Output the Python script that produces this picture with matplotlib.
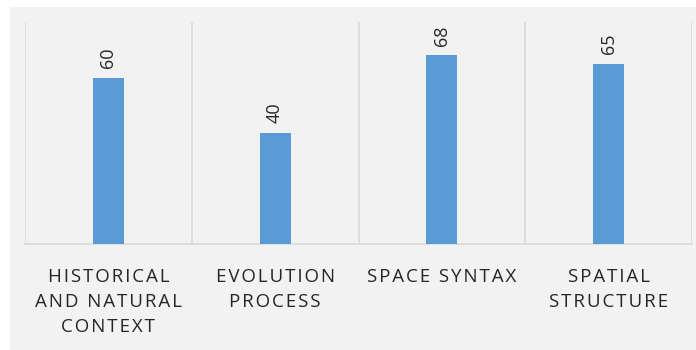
import matplotlib.pyplot as plt
from matplotlib.patches import Rectangle
import numpy as np

categories = ["HISTORICAL\nAND NATURAL\nCONTEXT", "EVOLUTION\nPROCESS",
              "SPACE SYNTAX", "SPATIAL\nSTRUCTURE"]
values = [60, 40, 68, 65]

bar_color = "#5b9bd5"
bg = "#f2f2f2"
grid_color = "#d9d9d9"
text_color = "#262626"

plt.rcParams['font.family'] = ['Open Sans', 'DejaVu Sans']


def spaced(s):
    # widen the tracking with hair spaces between letters
    return "\n".join("\u200a".join(line) for line in s.split("\n"))


fig = plt.figure(figsize=(6.96, 3.5), dpi=100)
fig.patch.set_facecolor("white")
fig.patches.append(Rectangle((10 / 696, 0.0), 1.0, 1 - 7 / 350,
                             transform=fig.transFigure, facecolor=bg,
                             edgecolor="none", zorder=-10))

ax = fig.add_axes([25 / 696, (350 - 244) / 350, (692 - 25) / 696, (244 - 22) / 350])
ax.set_facecolor(bg)

x = np.arange(len(values))
bars = ax.bar(x, values, width=0.186, color=bar_color, zorder=3)
ax.set_xlim(-0.5, len(values) - 0.5)
ax.set_ylim(0, 80)

for rect, v in zip(bars, values):
    ax.annotate(str(v), (rect.get_x() + rect.get_width() / 2, v),
                xytext=(0, 7), textcoords="offset points",
                rotation=90, ha="center", va="bottom",
                fontsize=13, color=text_color)

ax.set_xticks(x)
ax.set_xticklabels([spaced(c) for c in categories],
                   fontsize=13.5, color=text_color, linespacing=1.5)
ax.tick_params(axis="x", length=0, pad=17)
ax.set_yticks([])

# category separators
ax.set_xticks(np.arange(-0.5, len(values)), minor=True)
ax.tick_params(axis="x", which="minor", length=0)
ax.grid(axis="x", which="minor", color=grid_color, linewidth=1.2, zorder=0)

for side in ["top", "right", "left"]:
    ax.spines[side].set_visible(False)
ax.spines["bottom"].set_color(grid_color)
ax.spines["bottom"].set_linewidth(1.2)

fig.savefig("out.png", dpi=100, facecolor=fig.get_facecolor())
